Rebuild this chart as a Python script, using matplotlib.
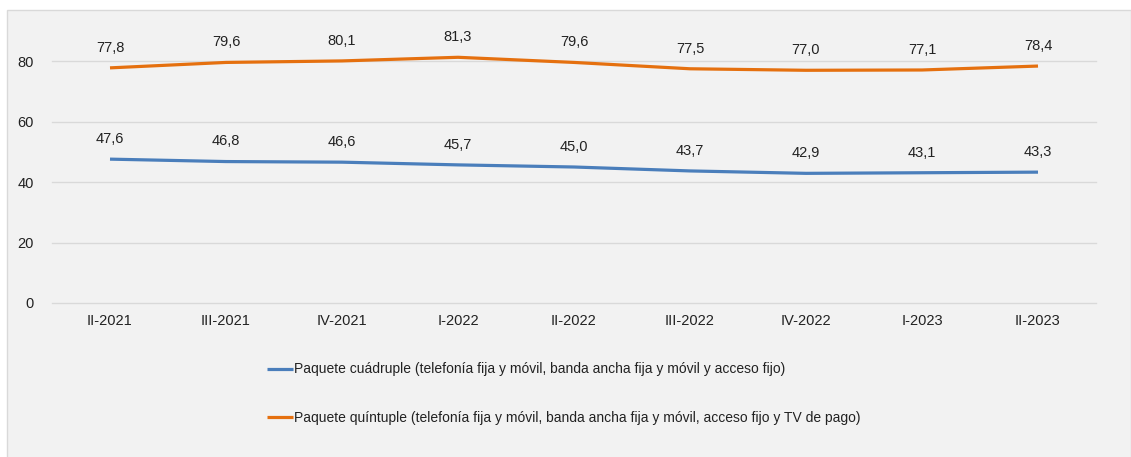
import matplotlib
matplotlib.use("Agg")
import matplotlib.pyplot as plt
from matplotlib.patches import Rectangle

periodos = ["II-2021", "III-2021", "IV-2021", "I-2022", "II-2022", "III-2022", "IV-2022", "I-2023", "II-2023"]
cuadruple = [47.6, 46.8, 46.6, 45.7, 45.0, 43.7, 42.9, 43.1, 43.3]
quintuple = [77.8, 79.6, 80.1, 81.3, 79.6, 77.5, 77.0, 77.1, 78.4]
nombres = ["Paquete cuádruple (telefonía fija y móvil, banda ancha fija y móvil y acceso fijo)",
           "Paquete quíntuple (telefonía fija y móvil, banda ancha fija y móvil, acceso fijo y TV de pago)"]
colores = ["#4a7ebb", "#e5700f"]

plt.rcParams['font.family'] = ['Liberation Sans', 'DejaVu Sans']

fig = plt.figure(figsize=(11.31, 4.57), dpi=100)
fig.patch.set_facecolor("white")
W, H = 1131, 457
# panel de fondo gris
fig.patches.append(Rectangle((7 / W, -0.01), 1 - 7 / W, 1 - 10 / H + 0.01, transform=fig.transFigure,
                             facecolor="#f2f2f2", edgecolor="#d9d9d9", linewidth=1, zorder=-5))

ax = fig.add_axes([52 / W, 1 - 303 / H, (1096 - 52) / W, (303 - 31) / H])
ax.set_facecolor("none")
x = list(range(len(periodos)))
for serie, nombre, c in zip([cuadruple, quintuple], nombres, colores):
    ax.plot(x, serie, color=c, linewidth=2.3, label=nombre, solid_capstyle="butt")
    for xi, v in zip(x, serie):
        ax.annotate(f"{v:.1f}".replace(".", ","), (xi, v), xytext=(0, 9.5), textcoords="offset points",
                    ha="center", va="bottom", fontsize=10.5, color="#222222")

ax.set_xlim(-0.5, len(periodos) - 0.5)
ax.set_ylim(0, 90)
ax.set_yticks([0, 20, 40, 60, 80])
ax.set_xticks(x)
ax.set_xticklabels(periodos)
ax.tick_params(length=0, labelsize=10.5, colors="#222222", pad=8)
ax.tick_params(axis="y", pad=13)
ax.grid(axis="y", color="#d9d9d9", linewidth=1, clip_on=False)
ax.set_axisbelow(True)
for s in ax.spines.values():
    s.set_visible(False)

leg = fig.legend(loc="upper left", bbox_to_anchor=(254 / W, 1 - 350 / H), frameon=False,
                 fontsize=10, handlelength=1.9, handletextpad=0.1, labelspacing=2.45,
                 labelcolor="#222222")

fig.savefig("out.png", dpi=100, facecolor="white")
